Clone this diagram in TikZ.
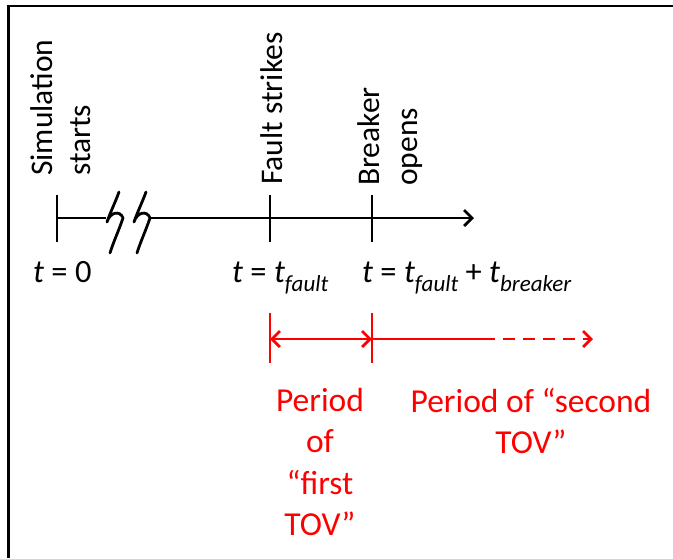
\documentclass[tikz,border=0pt]{standalone}
\usepackage{fontspec}
\setmainfont{Carlito}
\usetikzlibrary{arrows.meta}
\definecolor{tred}{RGB}{255,0,0}
\tikzset{
  bigfont/.style={font=\fontsize{31.5}{38}\selectfont, inner sep=0pt},
  lowfont/.style={font=\fontsize{32.5}{38}\selectfont, inner sep=0pt},
  vlabel/.style={bigfont, rotate=90, align=left},
  axisline/.style={line width=2.8pt, black},
  redline/.style={line width=2.8pt, tred},
  barb/.style={-{Straight Barb[length=8pt,width=16pt,line width=2.8pt]}},
  redtext/.style={inner sep=0pt, text=tred, align=center, font=\fontsize{33.5}{41.5}\selectfont}
}
\newcommand{\sub}[1]{\raisebox{-9pt}{\fontsize{23}{23}\selectfont\itshape #1}}
\begin{document}
\begin{tikzpicture}[x=1pt,y=-1pt]
\useasboundingbox (0,0) rectangle (673,558);
% frame
\coordinate (fr1) at (8.5,558);
\coordinate (fr2) at (8.5,6);
\coordinate (fr3) at (673,6);
\draw[line width=2.8pt] (fr1) -- (fr2) -- (fr3);
% axis coordinates
\coordinate (t0) at (57,218);
\coordinate (t0a) at (57,195);
\coordinate (t0b) at (57,242);
\coordinate (tf) at (270,218);
\coordinate (tfa) at (270,195);
\coordinate (tfb) at (270,242);
\coordinate (tb) at (372,218);
\coordinate (tba) at (372,195);
\coordinate (tbb) at (372,242);
\coordinate (brk1) at (106,218);
\coordinate (brk2) at (150,218);
\coordinate (tend) at (474,218);
% axis
\draw[axisline] (t0a) -- (t0b);
\draw[axisline] (tfa) -- (tfb);
\draw[axisline] (tba) -- (tbb);
\draw[axisline] (t0) -- (brk1);
\draw[axisline, line join=round, line cap=round] (119,192) .. controls (115,203) and (110,213) .. (107,222) .. controls (110,212) and (120,210) .. (123,218) .. controls (119,230) and (113,243) .. (110,253);
\draw[axisline, line join=round, line cap=round] (146,192) .. controls (142,203) and (137,213) .. (134,222) .. controls (137,212) and (147,210) .. (150,218) .. controls (146,230) and (140,243) .. (137,253);
\draw[axisline, barb] (brk2) -- (tend);
% labels above
\node[vlabel, anchor=north west] (sim) at (30,176) {Simulation\\starts};
\node[vlabel, anchor=base west] (fault) at (282,185) {Fault strikes};
\node[vlabel, anchor=north west] (brk) at (357,186) {Breaker\\opens};
% labels below
\node[lowfont, anchor=base west] (l0) at (33,282) {\textit{t} = 0};
\node[lowfont, anchor=base west] (lf) at (232,282) {\textit{t} = \textit{t}\sub{fault}};
\node[lowfont, anchor=base west] (lb) at (362,282) {\textit{t} = \textit{t}\sub{fault} + \textit{t}\sub{breaker}};
% red period markers
\coordinate (ra) at (270,313);
\coordinate (rab) at (270,363);
\coordinate (rb) at (372,313);
\coordinate (rbb) at (372,363);
\coordinate (p1) at (270,339);
\coordinate (p2) at (372,339);
\coordinate (p3) at (483,339);
\coordinate (p4) at (593,339);
\draw[redline] (ra) -- (rab);
\draw[redline] (rb) -- (rbb);
\draw[redline, {Straight Barb[length=8pt,width=16pt,line width=2.8pt]}-{Straight Barb[length=8pt,width=16pt,line width=2.8pt]}] (p1) -- (p2);
\draw[redline] (p2) -- (p3);
\draw[redline, barb, dash pattern=on 12pt off 8pt] (p3) -- (p4);
% red texts
\node[redtext, anchor=north] (first) at (320,388) {Period\\of\\“first\\TOV”};
\node[redtext, anchor=north] (second) at (531,388) {Period of “second\\TOV”};
\end{tikzpicture}
\end{document}
